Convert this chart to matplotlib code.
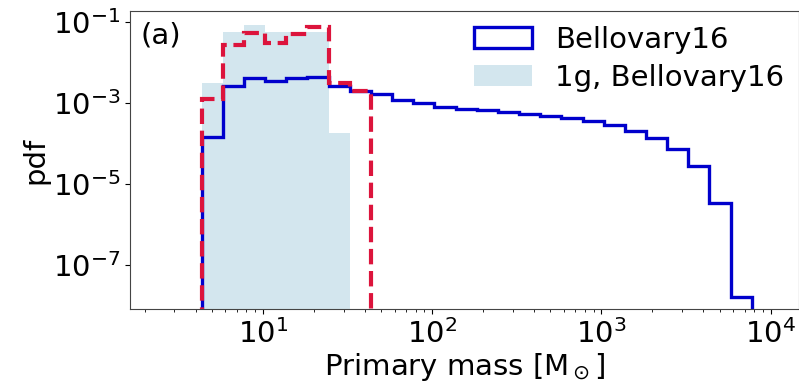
import numpy as np
import matplotlib
matplotlib.use("Agg")
import matplotlib.pyplot as plt
from matplotlib.patches import Patch

# Bin edges (log-spaced, 8 per decade) in solar masses
edge_min = 4.35
edge_max = 7730.0
n_bins = 26

# Bellovary16 (all generations) pdf per bin
bellovary_pdf = [1.48e-4, 2.63e-3, 4.07e-3, 3.47e-3, 4.17e-3, 4.47e-3, 2.60e-3,
                 2.0e-3, 1.62e-3, 1.17e-3, 9.8e-4, 8.1e-4, 7.1e-4, 6.5e-4,
                 5.9e-4, 5.4e-4, 4.8e-4, 4.2e-4, 3.5e-4, 2.8e-4, 2.0e-4,
                 1.35e-4, 7.2e-5, 2.8e-5, 3.5e-6, 1.6e-8]
# 1g, Bellovary16 pdf (first 7 bins)
first_gen_pdf = [3.16e-3, 5.6e-2, 8.3e-2, 5.6e-2, 5.6e-2, 5.6e-2, 1.78e-4]
# red dashed distribution (first 8 bins)
red_pdf = [1.23e-3, 2.7e-2, 5.4e-2, 2.95e-2, 5.0e-2, 7.6e-2, 3.16e-3, 2.0e-3]

labels = ["Bellovary16", "1g, Bellovary16"]

edges = np.logspace(np.log10(edge_min), np.log10(edge_max), n_bins + 1)

BLUE = "#0000cc"
LIGHT = "#d3e6ee"
RED = "#dc143c"
FS = 21

fig = plt.figure(figsize=(7.99, 3.88), dpi=100)
ax = fig.add_axes([0.1627, 0.2036, 0.8373, 0.768])

base = 1e-12
ax.stairs(first_gen_pdf, edges[:len(first_gen_pdf) + 1], fill=True,
          color=LIGHT, baseline=base, zorder=1)
ax.stairs(bellovary_pdf, edges, color=BLUE, lw=2.4, baseline=base, zorder=2)
ax.stairs(red_pdf, edges[:len(red_pdf) + 1], color=RED, lw=3.0,
          ls="--", baseline=base, zorder=3)

ax.set_xscale("log")
ax.set_yscale("log")
ax.set_xlim(1.64, 14690)
ax.set_ylim(8.3e-9, 0.184)
ax.set_yticks([1e-7, 1e-5, 1e-3, 1e-1])
ax.minorticks_on()
ax.yaxis.set_minor_locator(matplotlib.ticker.NullLocator())

ax.tick_params(labelsize=FS)
ax.set_xlabel(r"Primary mass [M$_\odot$]", fontsize=FS, labelpad=2)
ax.set_ylabel("pdf", fontsize=FS, labelpad=2)
for s in ax.spines.values():
    s.set_color("#444444")

ax.text(0.015, 0.965, "(a)", transform=ax.transAxes, va="top", ha="left",
        fontsize=FS)

handles = [Patch(facecolor="white", edgecolor=BLUE, lw=2.4),
           Patch(facecolor=LIGHT, edgecolor="none")]
ax.legend(handles, labels, loc="upper right", frameon=False, fontsize=FS,
          borderaxespad=0.1, handlelength=2.0, handletextpad=0.8,
          labelspacing=0.35)

fig.savefig("out.png", dpi=100)
